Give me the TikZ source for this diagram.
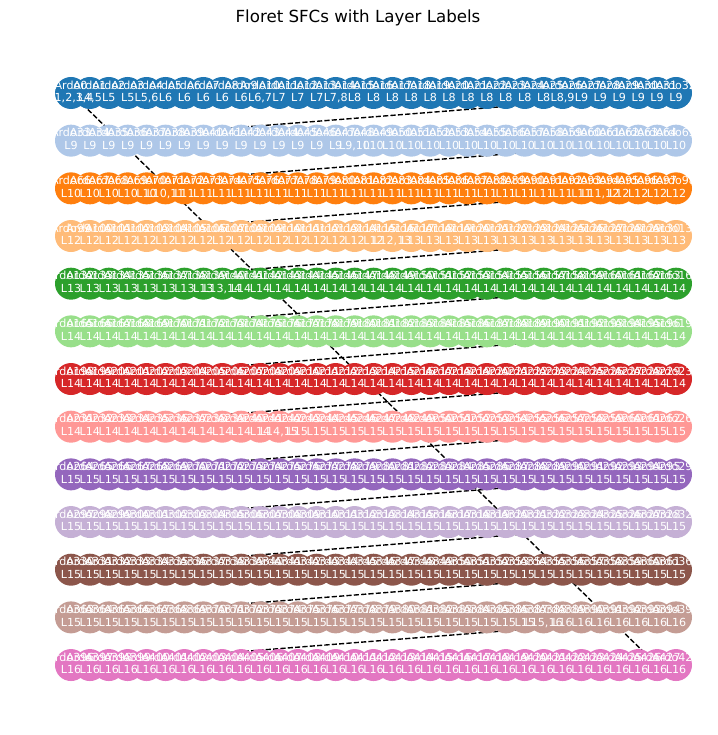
\documentclass[tikz,border=0pt]{standalone}
\usepackage{fontspec}
\setmainfont{DejaVu Sans}
\usetikzlibrary{backgrounds}
\definecolor{c0}{HTML}{1F77B4}
\definecolor{c1}{HTML}{AEC7E8}
\definecolor{c2}{HTML}{FF7F0E}
\definecolor{c3}{HTML}{FFBB78}
\definecolor{c4}{HTML}{2CA02C}
\definecolor{c5}{HTML}{98DF8A}
\definecolor{c6}{HTML}{D62728}
\definecolor{c7}{HTML}{FF9896}
\definecolor{c8}{HTML}{9467BD}
\definecolor{c9}{HTML}{C5B0D5}
\definecolor{c10}{HTML}{8C564B}
\definecolor{c11}{HTML}{C49C94}
\definecolor{c12}{HTML}{E377C2}
\newcommand\drawrow[2]{%
  \foreach \lab [count=\k from 0] in {#2} {
    \node[fnode,fill=c#1] (n#1-\k) at ({71+\k*18.906},{93+#1*47.67}) {};
  }
  \foreach \lab [count=\k from 0] in {#2} {
    \pgfmathtruncatemacro\idx{#1*33+\k}
    \node[lab] (t#1-\k) at (n#1-\k) {\strut Ardo\idx\\\strut\lab};
  }
}
\begin{document}
\begin{tikzpicture}[x=0.72pt,y=-0.72pt,
  fnode/.style={circle,inner sep=0pt,minimum size=23.04pt,draw=none},
  lab/.style={text=white,font=\fontsize{8}{9.2}\selectfont,align=center,inner sep=0pt},
  sfcedge/.style={draw=black,line width=1pt,dash pattern=on 3.7pt off 1.6pt}]
\useasboundingbox (0,0) rectangle (717,735);
\node[font=\fontsize{12}{14}\selectfont] (title) at (358,18) {Floret SFCs with Layer Labels};
\drawrow{0}{{L1,2,3,4},{L4,5},L5,L5,{L5,6},L6,L6,L6,L6,L6,{L6,7},L7,L7,L7,{L7,8},L8,L8,L8,L8,L8,L8,L8,L8,L8,L8,L8,{L8,9},L9,L9,L9,L9,L9,L9}
\drawrow{1}{L9,L9,L9,L9,L9,L9,L9,L9,L9,L9,L9,L9,L9,L9,L9,{L9,10},L10,L10,L10,L10,L10,L10,L10,L10,L10,L10,L10,L10,L10,L10,L10,L10,L10}
\drawrow{2}{L10,L10,L10,L10,L10,{L10,11},L11,L11,L11,L11,L11,L11,L11,L11,L11,L11,L11,L11,L11,L11,L11,L11,L11,L11,L11,L11,L11,L11,{L11,12},L12,L12,L12,L12}
\drawrow{3}{L12,L12,L12,L12,L12,L12,L12,L12,L12,L12,L12,L12,L12,L12,L12,L12,L12,{L12,13},L13,L13,L13,L13,L13,L13,L13,L13,L13,L13,L13,L13,L13,L13,L13}
\drawrow{4}{L13,L13,L13,L13,L13,L13,L13,L13,{L13,14},L14,L14,L14,L14,L14,L14,L14,L14,L14,L14,L14,L14,L14,L14,L14,L14,L14,L14,L14,L14,L14,L14,L14,L14}
\drawrow{5}{L14,L14,L14,L14,L14,L14,L14,L14,L14,L14,L14,L14,L14,L14,L14,L14,L14,L14,L14,L14,L14,L14,L14,L14,L14,L14,L14,L14,L14,L14,L14,L14,L14}
\drawrow{6}{L14,L14,L14,L14,L14,L14,L14,L14,L14,L14,L14,L14,L14,L14,L14,L14,L14,L14,L14,L14,L14,L14,L14,L14,L14,L14,L14,L14,L14,L14,L14,L14,L14}
\drawrow{7}{L14,L14,L14,L14,L14,L14,L14,L14,L14,L14,L14,{L14,15},L15,L15,L15,L15,L15,L15,L15,L15,L15,L15,L15,L15,L15,L15,L15,L15,L15,L15,L15,L15,L15}
\drawrow{8}{L15,L15,L15,L15,L15,L15,L15,L15,L15,L15,L15,L15,L15,L15,L15,L15,L15,L15,L15,L15,L15,L15,L15,L15,L15,L15,L15,L15,L15,L15,L15,L15,L15}
\drawrow{9}{L15,L15,L15,L15,L15,L15,L15,L15,L15,L15,L15,L15,L15,L15,L15,L15,L15,L15,L15,L15,L15,L15,L15,L15,L15,L15,L15,L15,L15,L15,L15,L15,L15}
\drawrow{10}{L15,L15,L15,L15,L15,L15,L15,L15,L15,L15,L15,L15,L15,L15,L15,L15,L15,L15,L15,L15,L15,L15,L15,L15,L15,L15,L15,L15,L15,L15,L15,L15,L15}
\drawrow{11}{L15,L15,L15,L15,L15,L15,L15,L15,L15,L15,L15,L15,L15,L15,L15,L15,L15,L15,L15,L15,L15,L15,L15,L15,L15,{L15,16},L16,L16,L16,L16,L16,L16,L16}
\drawrow{12}{L16,L16,L16,L16,L16,L16,L16,L16,L16,L16,L16,L16,L16,L16,L16,L16,L16,L16,L16,L16,L16,L16,L16,L16,L16,L16,L16,L16,L16,L16,L16,L16,L16}
\begin{scope}[on background layer]
  \foreach \r [evaluate=\r as \s using int(\r+1)] in {0,...,11} {
    \draw[sfcedge] (n\r-32) -- (n\s-0);
  }
  \draw[sfcedge] (n0-0) -- (n12-31);
\end{scope}
\end{tikzpicture}
\end{document}
